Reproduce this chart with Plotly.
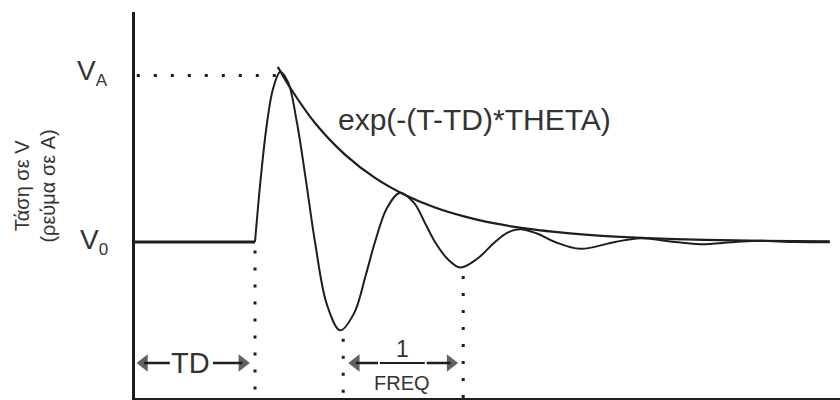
import plotly.graph_objects as go

# ---- data (time units where TD = 2, period = 2) ----
V0 = 0.0
VA = 1.0
TD = 2.0
PERIOD = 2.0          # 1/FREQ

flat_x = [0.0, 2.0]
flat_y = [0.0, 0.0]

sine_x = [2.0, 2.1, 2.2, 2.3, 2.42, 2.55, 2.7, 2.85, 3.0, 3.2, 3.42, 3.65, 3.85, 4.0,
          4.2, 4.42, 4.65, 4.85, 5.0, 5.21, 5.42, 5.7, 6.0, 6.21, 6.42, 6.7, 7.0,
          7.42, 8.0, 8.42, 9.0, 9.42, 10.0, 10.42, 11.0, 11.58]
sine_y = [0.0, 0.39, 0.70, 0.90, 1.0, 0.94, 0.70, 0.36, 0.0, -0.37, -0.52, -0.42, -0.19, 0.0,
          0.20, 0.29, 0.23, 0.10, 0.0, -0.10, -0.15, -0.10, 0.0, 0.055, 0.075, 0.05, 0.0,
          -0.04, 0.0, 0.022, 0.0, -0.013, 0.0, 0.007, 0.0, -0.002]

env_x = [2.38, 2.6, 3.0, 3.5, 4.0, 4.5, 5.0, 5.5, 6.0, 6.5, 7.0, 7.5, 8.0, 9.0, 10.0, 11.0, 11.58]
env_y = [1.03, 0.90, 0.70, 0.514, 0.377, 0.277, 0.203, 0.149, 0.109, 0.080, 0.059, 0.043,
         0.032, 0.017, 0.009, 0.005, 0.003]

trough1_x, trough1_y = 3.47, -0.52
trough2_x, trough2_y = 5.47, -0.15

X_RANGE = [0, 11.75]
Y_RANGE = [-0.918, 1.353]

INK = "#1e1e1e"
TXT = "#333333"
FONT = "Liberation Sans, Arial, sans-serif"

fig = go.Figure()
fig.add_trace(go.Scatter(x=flat_x, y=flat_y, mode="lines",
                         line=dict(color=INK, width=3), hoverinfo="skip"))
fig.add_trace(go.Scatter(x=sine_x, y=sine_y, mode="lines",
                         line=dict(color=INK, width=2, shape="spline", smoothing=1.0),
                         hoverinfo="skip"))
fig.add_trace(go.Scatter(x=env_x, y=env_y, mode="lines",
                         line=dict(color=INK, width=2.2, shape="spline", smoothing=0.8),
                         hoverinfo="skip"))

# dimension arrows (heads as triangle markers, shafts as line shapes)
arrow_y = -0.712
head_off = 0.11
td_left, td_right = 0.04, TD - 0.10
fr_left, fr_right = trough1_x + 0.10, trough2_x - 0.10
fig.add_trace(go.Scatter(
    x=[td_left + head_off, td_right - head_off, fr_left + head_off, fr_right - head_off],
    y=[arrow_y] * 4, mode="markers", hoverinfo="skip",
    marker=dict(symbol=["triangle-left", "triangle-right", "triangle-left", "triangle-right"],
                size=[15, 15, 15, 15], color=INK, line=dict(width=0))))

dot = dict(color=INK, width=3, dash="3px,14px")
shaft = dict(color=INK, width=2.5)
shapes = [
    dict(type="line", xref="x", yref="y", x0=0.03, x1=2.35, y0=VA - 0.02, y1=VA - 0.02, line=dot),
    dict(type="line", xref="x", yref="y", x0=TD, x1=TD, y0=-0.05, y1=Y_RANGE[0], line=dot),
    dict(type="line", xref="x", yref="y", x0=trough1_x, x1=trough1_x, y0=trough1_y - 0.05,
         y1=Y_RANGE[0], line=dot),
    dict(type="line", xref="x", yref="y", x0=trough2_x, x1=trough2_x, y0=trough2_y - 0.05,
         y1=Y_RANGE[0], line=dot),
    dict(type="line", xref="x", yref="y", x0=td_left + head_off, x1=0.58, y0=arrow_y, y1=arrow_y, line=shaft),
    dict(type="line", xref="x", yref="y", x0=1.30, x1=td_right - head_off, y0=arrow_y, y1=arrow_y, line=shaft),
    dict(type="line", xref="x", yref="y", x0=fr_left + head_off, x1=4.05, y0=arrow_y, y1=arrow_y, line=shaft),
    dict(type="line", xref="x", yref="y", x0=4.86, x1=fr_right - head_off, y0=arrow_y, y1=arrow_y, line=shaft),
    # fraction bar 1/FREQ
    dict(type="line", xref="x", yref="y", x0=4.08, x1=4.83, y0=arrow_y, y1=arrow_y,
         line=dict(color=INK, width=2)),
]

ann = [
    dict(x=-0.036, y=VA, xref="paper", yref="y",
         text="V<sub><span style='font-size:17px'>A</span></sub>", showarrow=False,
         xanchor="right", yanchor="middle", font=dict(size=28, color=TXT, family=FONT)),
    dict(x=-0.036, y=V0, xref="paper", yref="y",
         text="V<sub><span style='font-size:17px'>0</span></sub>", showarrow=False,
         xanchor="right", yanchor="middle", font=dict(size=28, color=TXT, family=FONT)),
    dict(x=-0.142, y=0.55, xref="paper", yref="paper", text="Τάση σε V<br>(ρεύμα σε A)",
         showarrow=False, textangle=-90, xanchor="center", yanchor="middle",
         font=dict(size=20, color=TXT, family=FONT)),
    dict(x=5.65, y=0.72, xref="x", yref="y", text="exp(-(T-TD)*THETA)", showarrow=False,
         xanchor="center", yanchor="middle", font=dict(size=30, color=TXT, family=FONT)),
    dict(x=TD / 2 - 0.08, y=arrow_y, xref="x", yref="y", text="TD", showarrow=False,
         xanchor="center", yanchor="middle", font=dict(size=29, color=TXT, family=FONT)),
    dict(x=4.45, y=-0.63, xref="x", yref="y", text="1", showarrow=False,
         xanchor="center", yanchor="middle", font=dict(size=23, color=TXT, family=FONT)),
    dict(x=4.45, y=-0.83, xref="x", yref="y", text="FREQ", showarrow=False,
         xanchor="center", yanchor="middle", font=dict(size=20, color=TXT, family=FONT)),
]

fig.update_layout(
    width=840, height=400,
    margin=dict(l=135, r=0, t=12, b=2),
    paper_bgcolor="white", plot_bgcolor="white",
    showlegend=False,
    shapes=shapes, annotations=ann,
    xaxis=dict(range=X_RANGE, showgrid=False, zeroline=False, showticklabels=False,
               ticks="", showline=True, linecolor=INK, linewidth=3, fixedrange=True),
    yaxis=dict(range=Y_RANGE, showgrid=False, zeroline=False, showticklabels=False,
               ticks="", showline=True, linecolor=INK, linewidth=3, fixedrange=True),
)

fig.write_html("out.html", config={"displayModeBar": False},
               post_script="document.body.style.margin='0';document.body.style.overflow='hidden';")
